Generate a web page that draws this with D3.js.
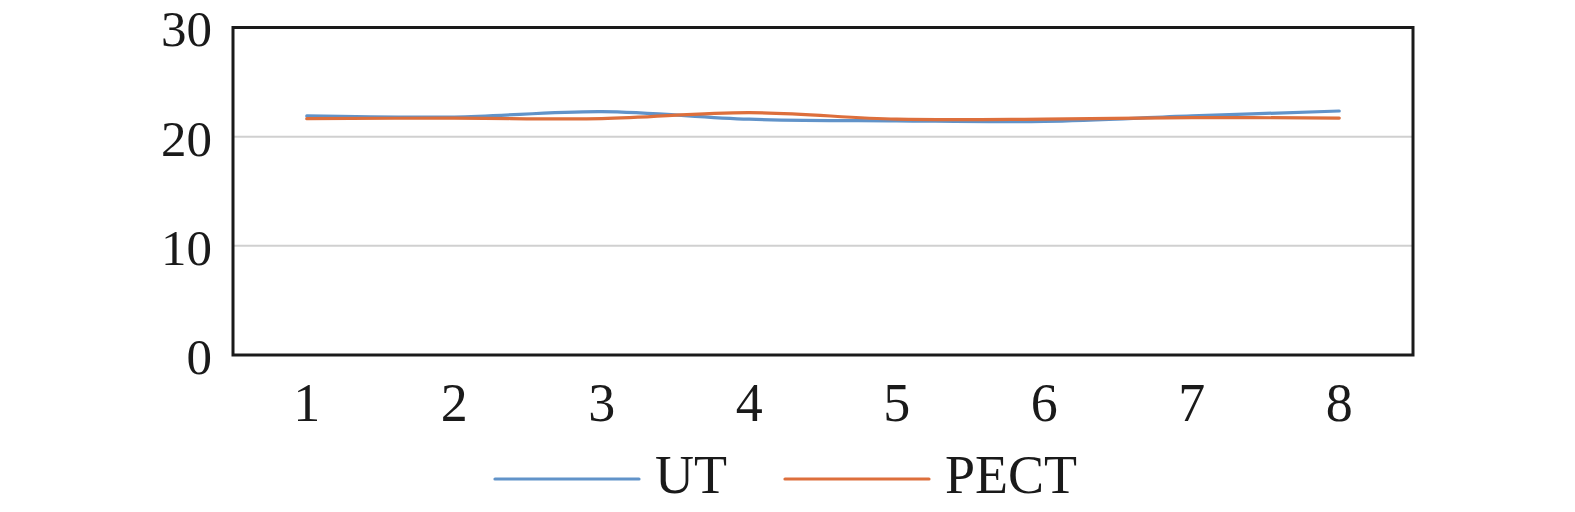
<!DOCTYPE html>
<html><head><meta charset="utf-8">
<script src="https://cdn.jsdelivr.net/npm/d3@7"></script>
<style>html,body{margin:0;padding:0;background:#fff;overflow:hidden;} svg{display:block;}</style>
</head><body>
<svg id="c" width="1575" height="512"></svg>
<script>
const categories = ["1","2","3","4","5","6","7","8"];
const utValues   = [21.9, 21.8, 22.3, 21.6, 21.45, 21.4, 21.9, 22.35];
const pectValues = [21.65, 21.7, 21.65, 22.2, 21.6, 21.6, 21.75, 21.7];
const yTicks = [0, 10, 20, 30];
const seriesNames = ["UT", "PECT"];
const colors = ["#6193C9", "#DD6F3C"];

const svg = d3.select("#c");
const L = 233, R = 1413, T = 27.5, B = 355;
const font = "'Liberation Serif','Times New Roman',Times,serif";

const x = d3.scaleBand().domain(categories).range([L, R]);
const y = d3.scaleLinear().domain([0, 30]).range([B, T]);

// gridlines
svg.append("g").selectAll("line").data(yTicks.filter(t => t > 0 && t < 30)).join("line")
  .attr("x1", L).attr("x2", R).attr("y1", d => y(d)).attr("y2", d => y(d))
  .attr("stroke", "#d0d0d0").attr("stroke-width", 2);

// frame
svg.append("rect").attr("x", L).attr("y", T).attr("width", R - L).attr("height", B - T)
  .attr("fill", "none").attr("stroke", "#1a1a1a").attr("stroke-width", 3);

// y axis labels
const yAxis = d3.axisLeft(y).tickValues(yTicks).tickSize(0).tickPadding(21);
const gy = svg.append("g").attr("transform", `translate(${L},0)`).call(yAxis);
gy.select(".domain").remove();
gy.selectAll("text").attr("font-family", font).attr("font-size", 51).attr("fill", "#1a1a1a")
  .attr("dy", "0.36em");

// x axis labels
const xAxis = d3.axisBottom(x).tickSize(0).tickPadding(0);
const gx = svg.append("g").attr("transform", `translate(0,${B})`).call(xAxis);
gx.select(".domain").remove();
gx.selectAll("text").attr("font-family", font).attr("font-size", 54).attr("fill", "#1a1a1a")
  .attr("dy", null).attr("y", 66);

// lines
const line = d3.line()
  .x((d, i) => x(categories[i]) + x.bandwidth() / 2)
  .y(d => y(d))
  .curve(d3.curveCatmullRom);
[utValues, pectValues].forEach((vals, k) => {
  svg.append("path").datum(vals).attr("d", line)
    .attr("fill", "none").attr("stroke", colors[k]).attr("stroke-width", 3.2)
    .attr("stroke-linecap", "round");
});

// legend
const legX = [495, 785];
seriesNames.forEach((name, k) => {
  const g = svg.append("g");
  g.append("line").attr("x1", legX[k]).attr("x2", legX[k] + 144)
    .attr("y1", 479).attr("y2", 479).attr("stroke", colors[k]).attr("stroke-width", 3.2)
    .attr("stroke-linecap", "round");
  g.append("text").attr("x", legX[k] + 160).attr("y", 493)
    .attr("font-family", font).attr("font-size", 54).attr("fill", "#1a1a1a").text(name);
});
</script>
</body></html>
